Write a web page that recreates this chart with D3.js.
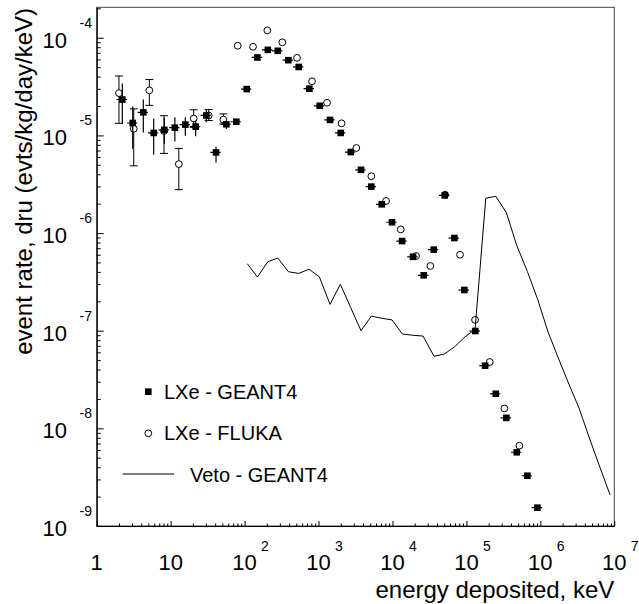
<!DOCTYPE html>
<html>
<head>
<meta charset="utf-8">
<script src="https://cdn.jsdelivr.net/npm/d3@7"></script>
<style>
  html, body { margin: 0; padding: 0; background: #fff; }
  svg { display: block; }
  text { font-family: "Liberation Sans", Arial, Helvetica, sans-serif; fill: #000; }
</style>
</head>
<body>
<script>
// ---------------- data ----------------
// LXe - GEANT4 (filled squares)
const energyG4 = [2.22, 3.07, 4.27, 5.90, 8.21, 11.4, 15.8, 21.8, 30.4, 41.1, 56.6, 77.3,
  107, 149, 206, 281, 391, 540, 751, 1038, 1432, 1996, 2727, 3758, 5180, 7160, 9860,
  13490, 18970, 26490, 36150, 50970, 68710, 93800, 132100, 178700, 249500, 346800,
  479700, 667400, 911800];
const rateG4 = [2.33e-5, 1.34e-5, 1.72e-5, 1.06e-5, 1.14e-5, 1.20e-5, 1.29e-5, 1.23e-5,
  1.60e-5, 6.69e-6, 1.30e-5, 1.38e-5, 2.98e-5, 6.28e-5, 7.52e-5, 7.35e-5, 5.89e-5,
  5.02e-5, 3.01e-5, 2.01e-5, 1.44e-5, 1.06e-5, 6.75e-6, 4.44e-6, 2.99e-6, 1.97e-6,
  1.29e-6, 8.28e-7, 5.71e-7, 3.69e-7, 6.76e-7, 2.43e-6, 8.89e-7, 2.61e-7, 9.93e-8,
  4.38e-8, 2.26e-8, 1.28e-8, 5.69e-9, 3.27e-9, 1.54e-9];
const rateG4High = [3.39e-5, 1.98e-5, 2.33e-5, 1.49e-5, 1.52e-5, 1.53e-5, 1.53e-5, 1.42e-5,
  1.83e-5, 7.66e-6, 1.42e-5];
const rateG4Low = [1.31e-5, 7.30e-6, 1.07e-5, 6.33e-6, 8.22e-6, 8.68e-6, 9.94e-6, 9.78e-6,
  1.36e-5, 5.28e-6, 1.16e-5];

// LXe - FLUKA (open circles)
const energyFluka = [2.00, 3.17, 5.15, 8.13, 12.9, 20.5, 32.7, 51.6, 80.7, 130, 203, 324,
  512, 817, 1303, 2048, 3245, 5180, 8185, 12940, 20840, 32510, 51420, 82030, 130900,
  207000, 326200, 520500];
const rateFluka = [2.71e-5, 1.17e-5, 2.89e-5, 1.11e-5, 5.08e-6, 1.49e-5, 1.60e-5, 1.45e-5,
  8.28e-5, 8.08e-5, 1.19e-4, 8.97e-5, 6.22e-5, 3.58e-5, 2.16e-5, 1.33e-5, 7.43e-6,
  3.82e-6, 2.13e-6, 1.09e-6, 5.82e-7, 4.60e-7, 2.47e-6, 6.00e-7, 1.29e-7, 4.78e-8,
  1.60e-8, 6.64e-9];
const rateFlukaHigh = [4.06e-5, 1.87e-5, 3.73e-5, 1.59e-5, 7.36e-6, 1.83e-5, 1.84e-5, 1.66e-5];
const rateFlukaLow = [1.33e-5, 4.88e-6, 2.03e-5, 6.54e-6, 2.78e-6, 1.21e-5, 1.42e-5, 1.31e-5];

// Veto - GEANT4 (line)
const energyVeto = [109, 149, 206, 281, 391, 540, 745, 1026, 1432, 1972, 2727, 3758, 5180,
  7160, 9860, 13600, 18800, 25900, 36500, 50300, 69500, 95900, 130900, 182700, 249500,
  346800, 479700, 667400, 922500, 1.27e6, 1.75e6, 2.43e6, 3.34e6, 4.60e6, 6.37e6, 8.77e6];
const rateVeto = [4.85e-7, 3.54e-7, 5.08e-7, 5.55e-7, 4.02e-7, 3.86e-7, 4.26e-7, 3.56e-7,
  1.86e-7, 2.99e-7, 1.72e-7, 1.00e-7, 1.41e-7, 1.34e-7, 1.29e-7, 9.25e-8, 8.98e-8,
  8.81e-8, 5.47e-8, 5.77e-8, 6.86e-8, 8.67e-8, 1.03e-7, 2.27e-6, 2.38e-6, 1.62e-6,
  7.45e-7, 4.04e-7, 2.08e-7, 9.70e-8, 5.25e-8, 2.84e-8, 1.61e-8, 7.96e-9, 4.02e-9, 2.08e-9];

// axis ticks (powers of ten)
const xTickExps = [0, 1, 2, 3, 4, 5, 6, 7];
const yTickExps = [-9, -8, -7, -6, -5, -4];
const xDomain = [1, 1e7];
const yDomain = [1e-9, 2.05e-4];

const legendItems = ["LXe - GEANT4", "LXe - FLUKA", "Veto - GEANT4"];
const xTitle = "energy deposited, keV";
const yTitle = "event rate, dru (evts/kg/day/keV)";

// ---------------- layout ----------------
const W = 639, H = 604;
const L = 96.7, R = 614.3, T = 7.3, B = 526;

const svg = d3.select("body").append("svg").attr("width", W).attr("height", H);

const x = d3.scaleLog().domain(xDomain).range([L, R]);
const y = d3.scaleLog().domain(yDomain).range([B, T]);

// frame (top / right)
svg.append("rect").attr("x", L).attr("y", T).attr("width", R - L).attr("height", B - T)
  .attr("fill", "none").attr("stroke", "#444").attr("stroke-width", 1);

// minor tick values
const xMinor = [];
xTickExps.slice(0, -1).forEach(k => { for (let m = 2; m <= 9; m++) xMinor.push(m * Math.pow(10, k)); });
const yMinor = [];
yTickExps.forEach(k => { for (let m = 2; m <= 9; m++) { const v = m * Math.pow(10, k); if (v <= yDomain[1]) yMinor.push(v); } });

const xMajor = xTickExps.map(k => Math.pow(10, k));
const yMajor = yTickExps.map(k => Math.pow(10, k));

// axes via d3 (ticks pointing inside)
const gx = svg.append("g").attr("transform", `translate(0,${B})`);
gx.call(d3.axisBottom(x).tickValues(xMajor).tickSizeInner(-5).tickSizeOuter(0).tickFormat(""));
const gxm = svg.append("g").attr("transform", `translate(0,${B})`);
gxm.call(d3.axisBottom(x).tickValues(xMinor).tickSizeInner(-2.5).tickSizeOuter(0).tickFormat(""));
gxm.select(".domain").remove();

const gy = svg.append("g").attr("transform", `translate(${L},0)`);
gy.call(d3.axisLeft(y).tickValues(yMajor).tickSizeInner(-7).tickSizeOuter(0).tickFormat(""));
const gym = svg.append("g").attr("transform", `translate(${L},0)`);
gym.call(d3.axisLeft(y).tickValues(yMinor).tickSizeInner(-4).tickSizeOuter(0).tickFormat(""));
gym.select(".domain").remove();

svg.selectAll(".tick line").attr("stroke", "#000").attr("stroke-width", 1);
svg.selectAll(".domain").attr("stroke", "#000").attr("stroke-width", 1.2);

// y tick labels: 10^k
yTickExps.forEach(k => {
  const yy = y(Math.pow(10, k));
  svg.append("text").attr("x", 67).attr("y", yy + 10).attr("text-anchor", "end")
    .attr("font-size", 22).text("10");
  svg.append("text").attr("x", 92).attr("y", yy - 10).attr("text-anchor", "end")
    .attr("font-size", 14).text(String(k));
});

// x tick labels
xTickExps.forEach(k => {
  const xx = x(Math.pow(10, k));
  if (k === 0) {
    svg.append("text").attr("x", xx).attr("y", 569.5).attr("text-anchor", "middle").attr("font-size", 22).text("1");
  } else {
    svg.append("text").attr("x", xx).attr("y", 569.5).attr("text-anchor", "middle").attr("font-size", 22).text("10");
    if (k >= 2) {
      svg.append("text").attr("x", xx + 16.5).attr("y", 551).attr("text-anchor", "start").attr("font-size", 14).text(String(k));
    }
  }
});

// axis titles
svg.append("text").attr("x", R).attr("y", 598).attr("text-anchor", "end").attr("font-size", 24).text(xTitle);
svg.append("text").attr("transform", `translate(32,8) rotate(-90)`).attr("text-anchor", "end")
  .attr("font-size", 24).text(yTitle);

// ---------------- data marks ----------------
svg.append("clipPath").attr("id", "clip").append("rect")
  .attr("x", L).attr("y", T).attr("width", R - L).attr("height", B - T);
const plot = svg.append("g").attr("clip-path", "url(#clip)");

// veto line
plot.append("path")
  .datum(energyVeto.map((e, i) => [e, rateVeto[i]]))
  .attr("fill", "none").attr("stroke", "#000").attr("stroke-width", 1)
  .attr("d", d3.line().x(d => x(d[0])).y(d => y(d[1])));

// FLUKA circles with capped error bars
const cr = 3.4;
const fl = energyFluka.map((e, i) => ({ e, r: rateFluka[i], hi: rateFlukaHigh[i], lo: rateFlukaLow[i] }));
const flG = plot.append("g");
fl.forEach(d => {
  const cx = x(d.e), cy = y(d.r);
  if (d.hi !== undefined) {
    const yh = y(d.hi), yl = y(d.lo);
    if (yh < cy - cr) flG.append("line").attr("x1", cx).attr("x2", cx).attr("y1", yh).attr("y2", cy - cr);
    if (yl > cy + cr) flG.append("line").attr("x1", cx).attr("x2", cx).attr("y1", cy + cr).attr("y2", yl);
    flG.append("line").attr("x1", cx - 4).attr("x2", cx + 4).attr("y1", yh).attr("y2", yh);
    flG.append("line").attr("x1", cx - 4).attr("x2", cx + 4).attr("y1", yl).attr("y2", yl);
  }
  flG.append("circle").attr("cx", cx).attr("cy", cy).attr("r", cr)
    .attr("fill", "none").attr("stroke", "#000").attr("stroke-width", 1);
});
flG.selectAll("line").attr("stroke", "#000").attr("stroke-width", 1);

// GEANT4 squares with error bars
const sq = 6.6;
const g4 = energyG4.map((e, i) => ({ e, r: rateG4[i], hi: rateG4High[i], lo: rateG4Low[i] }));
const g4G = plot.append("g");
g4.forEach(d => {
  const cx = x(d.e), cy = y(d.r);
  g4G.append("line").attr("x1", x(d.e / Math.pow(10, 0.078))).attr("x2", x(d.e * Math.pow(10, 0.062)))
    .attr("y1", cy).attr("y2", cy);
  if (d.hi !== undefined) {
    g4G.append("line").attr("x1", cx).attr("x2", cx).attr("y1", y(d.hi)).attr("y2", y(d.lo));
  }
  g4G.append("rect").attr("x", cx - sq / 2).attr("y", cy - sq / 2).attr("width", sq).attr("height", sq)
    .attr("fill", "#000");
});
g4G.selectAll("line").attr("stroke", "#000").attr("stroke-width", 1.2);

// ---------------- legend ----------------
const lg = svg.append("g");
lg.append("rect").attr("x", 148.3 - sq / 2).attr("y", 391.7 - sq / 2).attr("width", sq).attr("height", sq).attr("fill", "#000");
lg.append("text").attr("x", 164).attr("y", 398.5).attr("font-size", 20).text(legendItems[0]);
lg.append("circle").attr("cx", 148.3).attr("cy", 433.3).attr("r", cr).attr("fill", "none").attr("stroke", "#000");
lg.append("text").attr("x", 164).attr("y", 439.5).attr("font-size", 20).text(legendItems[1]);
lg.append("line").attr("x1", 122.7).attr("x2", 174).attr("y1", 474).attr("y2", 474).attr("stroke", "#000");
lg.append("text").attr("x", 190).attr("y", 481.7).attr("font-size", 20).text(legendItems[2]);
</script>
</body>
</html>
